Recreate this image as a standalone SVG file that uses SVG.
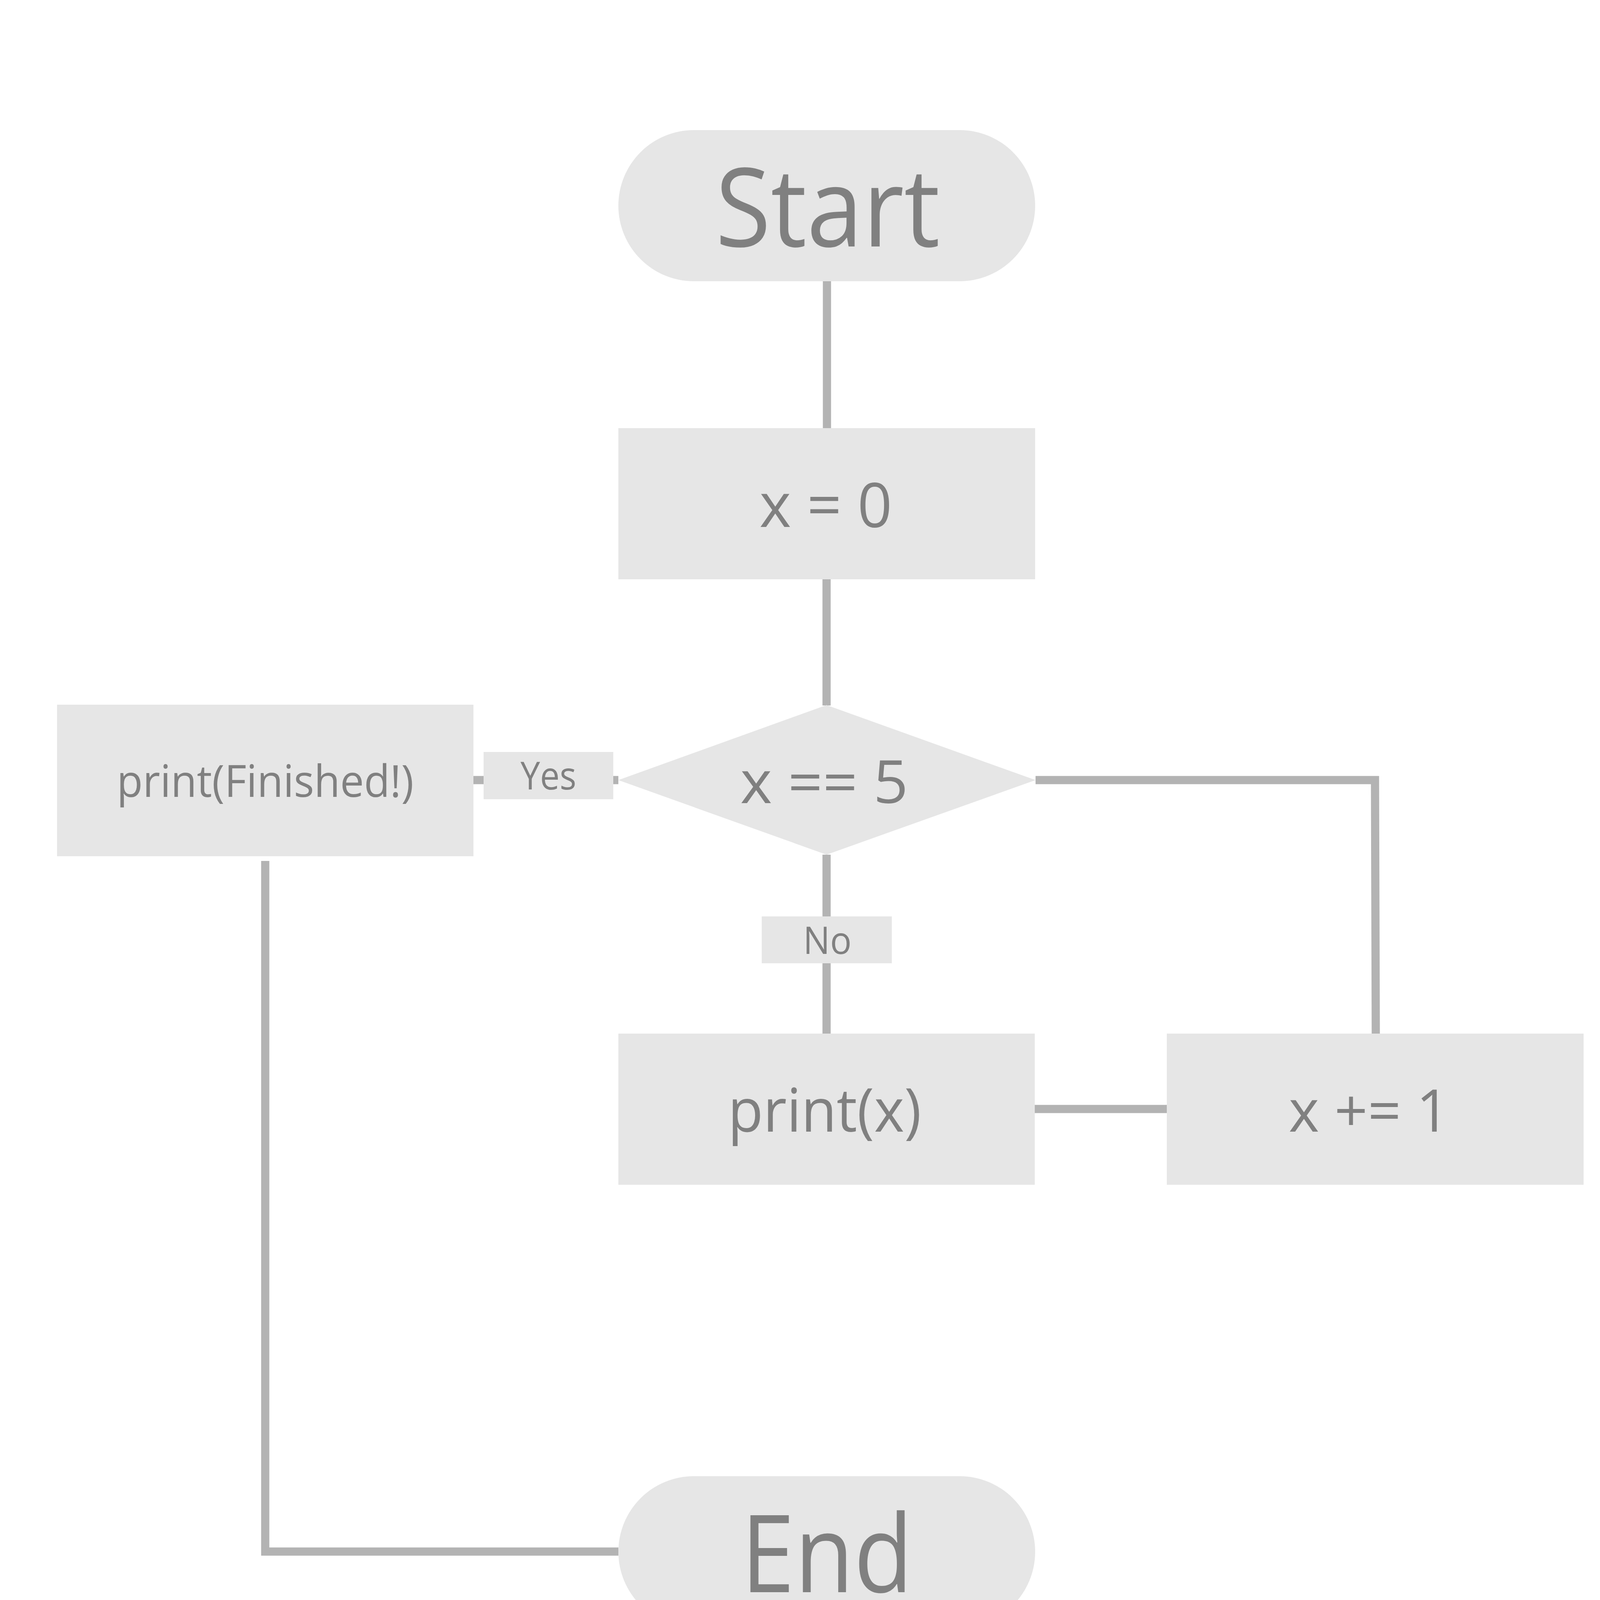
<svg xmlns="http://www.w3.org/2000/svg" width="4200" height="4500" viewBox="0 0 4200 4500">
<style>
.node{fill:#e6e6e6;}
.lbl{font-family:"Open Sans","Liberation Sans",sans-serif;fill:#808080;text-anchor:middle;}
.conn{fill:none;stroke:#b3b3b3;stroke-width:21;stroke-linecap:butt;stroke-linejoin:miter;}
</style>
<rect width="4200" height="4500" fill="#ffffff"/>
<g id="connectors">
<line class="conn" x1="2117" y1="720" x2="2117" y2="1096"/>
<line class="conn" x1="2116" y1="1483" x2="2116" y2="1806"/>
<line class="conn" x1="1212" y1="1997" x2="1583" y2="1997"/>
<polyline class="conn" points="2651,1997 3520,1997 3522,2646"/>
<line class="conn" x1="2116" y1="2188" x2="2116" y2="2646"/>
<line class="conn" x1="2649" y1="2839" x2="2987" y2="2839"/>
<polyline class="conn" points="679,2204 679,3972 1583,3972"/>
</g>
<g id="start">
<rect class="node" x="1583" y="333" width="1067" height="387" rx="193.5" ry="193.5"/>
<text class="lbl" x="2119" y="631" font-size="280" textLength="575" lengthAdjust="spacingAndGlyphs">Start</text>
</g>
<g id="init">
<rect class="node" x="1583" y="1096" width="1067" height="387"/>
<text class="lbl" x="2114" y="1349" font-size="157" textLength="340" lengthAdjust="spacingAndGlyphs">x = 0</text>
</g>
<g id="decision">
<polygon class="node" points="2116,1805 2651,1997 2116,2188 1583,1997"/>
<text class="lbl" x="2110" y="2056" font-size="152" textLength="430" lengthAdjust="spacingAndGlyphs">x == 5</text>
</g>
<g id="label-yes">
<rect class="node" x="1238" y="1925" width="332" height="121"/>
<text class="lbl" x="1404" y="2021" font-size="98" textLength="143" lengthAdjust="spacingAndGlyphs">Yes</text>
</g>
<g id="label-no">
<rect class="node" x="1950" y="2346" width="333" height="120"/>
<text class="lbl" x="2118" y="2442" font-size="97" textLength="124" lengthAdjust="spacingAndGlyphs">No</text>
</g>
<g id="finished">
<rect class="node" x="146" y="1804" width="1066" height="388"/>
<text class="lbl" x="679" y="2040" font-size="113" textLength="760" lengthAdjust="spacingAndGlyphs">print(Finished!)</text>
</g>
<g id="printx">
<rect class="node" x="1583" y="2646" width="1066" height="387"/>
<text class="lbl" x="2111" y="2897" font-size="153" textLength="495" lengthAdjust="spacingAndGlyphs">print(x)</text>
</g>
<g id="increment">
<rect class="node" x="2987" y="2646" width="1067" height="387"/>
<text class="lbl" x="3505" y="2897" font-size="150" textLength="412" lengthAdjust="spacingAndGlyphs">x += 1</text>
</g>
<g id="end">
<rect class="node" x="1583" y="3779" width="1067" height="387" rx="193.5" ry="193.5"/>
<text class="lbl" x="2117" y="4076" font-size="276" textLength="440" lengthAdjust="spacingAndGlyphs">End</text>
</g>
</svg>
